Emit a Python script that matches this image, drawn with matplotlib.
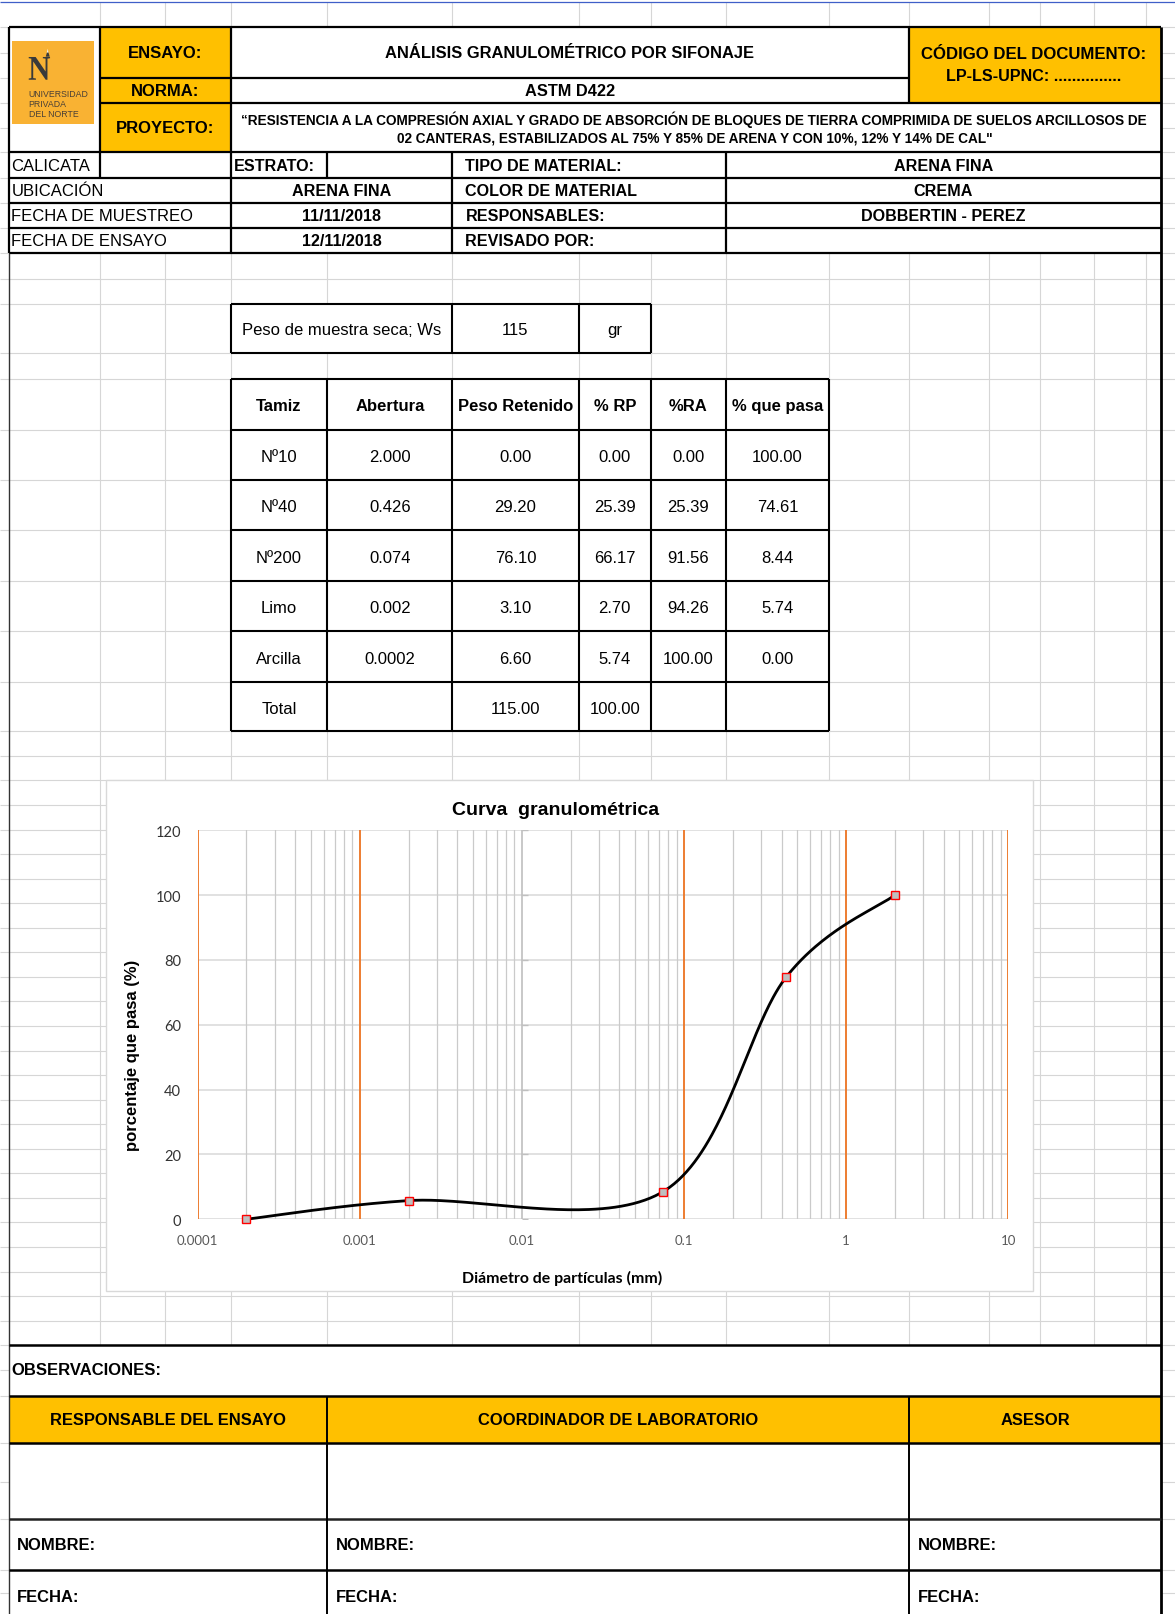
import numpy as np
import matplotlib.pyplot as plt
from matplotlib.patches import Rectangle, PathPatch, Polygon
from matplotlib.textpath import TextPath
from matplotlib.font_manager import FontProperties
from matplotlib.transforms import Affine2D
from matplotlib.ticker import FuncFormatter, NullLocator

plt.rcParams['font.family'] = ['Liberation Sans', 'DejaVu Sans']

# ---------------- data ----------------
ensayo = 'ANÁLISIS GRANULOMÉTRICO POR SIFONAJE'
norma = 'ASTM D422'
proyecto = ['“RESISTENCIA A LA COMPRESIÓN AXIAL Y GRADO DE ABSORCIÓN DE BLOQUES DE TIERRA COMPRIMIDA DE SUELOS ARCILLOSOS DE',
            '02 CANTERAS, ESTABILIZADOS AL 75% Y 85% DE ARENA Y CON 10%, 12% Y 14% DE CAL"']
codigo = ['CÓDIGO DEL DOCUMENTO:', 'LP-LS-UPNC: ...............']

info_left = ['CALICATA', 'UBICACIÓN', 'FECHA DE MUESTREO', 'FECHA DE ENSAYO']
info_mid = ['', 'ARENA FINA', '11/11/2018', '12/11/2018']
info_lbl = ['TIPO DE MATERIAL:', 'COLOR DE MATERIAL', 'RESPONSABLES:', 'REVISADO POR:']
info_val = ['ARENA FINA', 'CREMA', 'DOBBERTIN - PEREZ', '']

peso_muestra = 115
headers = ['Tamiz', 'Abertura', 'Peso Retenido', '% RP', '%RA', '% que pasa']
tamiz = ['Nº10', 'Nº40', 'Nº200', 'Limo', 'Arcilla']
abertura = [2.000, 0.426, 0.074, 0.002, 0.0002]
peso_ret = [0.00, 29.20, 76.10, 3.10, 6.60]
pct_rp = [0.00, 25.39, 66.17, 2.70, 5.74]
pct_ra = [0.00, 25.39, 91.56, 94.26, 100.00]
pct_pasa = [100.00, 74.61, 8.44, 5.74, 0.00]

firmas = ['RESPONSABLE DEL ENSAYO', 'COORDINADOR DE LABORATORIO', 'ASESOR']

# ---------------- sheet layout (reference pixel grid) ----------------
W, H = 1141, 1568
fig = plt.figure(figsize=(11.75, 16.15), dpi=100)
bg = fig.add_axes([0, 0, 1, 1])
bg.set_xlim(0, W)
bg.set_ylim(H, 0)
bg.axis('off')

YELLOW = '#FFC000'
GRID = '#D6D6D6'


def hline(y, x0, x1, color='black', lw=1.6, z=3):
    bg.plot([x0, x1], [y, y], color=color, lw=lw, zorder=z, solid_capstyle='butt')


def vline(x, y0, y1, color='black', lw=1.6, z=3):
    bg.plot([x, x], [y0, y1], color=color, lw=lw, zorder=z, solid_capstyle='butt')


def box(x0, y0, x1, y1, fc='white', ec='none', lw=0, z=1):
    bg.add_patch(Rectangle((x0, y0), x1 - x0, y1 - y0, fc=fc, ec=ec, lw=lw, zorder=z))


def txt(x, y, s, size=12, bold=False, ha='center', color='black', **kw):
    bg.text(x, y, s, fontsize=size, fontweight='bold' if bold else 'normal',
            ha=ha, va='center', color=color, zorder=4, **kw)


# spreadsheet gridlines
cols = [97, 160, 224, 318, 439, 562, 632, 705, 805, 883, 960, 1010, 1062, 1113]
rows = [27.5, 52, 76.7, 101.3, 125, 149, 173.8, 198.4, 222.7, 247, 271.5, 296, 344,
        369, 418, 467, 516, 565, 614, 663, 711]
rows += list(711 + 23.84 * np.arange(1, 26))
rows += [1331, 1356, 1402, 1440, 1476, 1525, 1548]
for x in cols:
    vline(x, 3, H, color=GRID, lw=0.8, z=0)
for y in rows:
    hline(y, 0, W, color=GRID, lw=0.8, z=0)
hline(2.5, 0, W, color='#3F5FC8', lw=0.9, z=0)

# white blocks over the grid
box(9, 27.5, 1127, 247)
box(224, 296, 632, 344)
box(224, 369, 805, 711)
box(9, 1307, 1127, H)

# ---------------- header ----------------
box(97, 27.5, 224, 149, fc=YELLOW, z=2)
box(883, 27.5, 1127, 101.3, fc=YELLOW, z=2)

# logo
box(11.2, 40.8, 91.5, 121.4, fc='#F9B233', z=2)
tp = TextPath((0, 0), 'N', size=1, prop=FontProperties(family='Liberation Serif', weight='bold'))
ext = tp.get_extents()
sx = (48.6 - 27.9) / ext.width
sy = (78.4 - 56.3) / ext.height
tr = Affine2D().translate(-ext.x0, -ext.y0).scale(sx, -sy).translate(27.9, 78.4)
bg.add_patch(PathPatch(tr.transform_path(tp), fc='#3A3A3A', ec='none', zorder=3))
bg.add_patch(Polygon([[44.4, 56], [46.3, 49.5], [48.3, 56]], closed=True, fc='#3A3A3A', ec='none', zorder=3))
bg.add_patch(Polygon([[45.5, 52], [46.3, 48.3], [47.1, 52]], closed=True, fc='white', ec='none', zorder=3))
for yy, s in zip([91.8, 101.5, 110.7], ['UNIVERSIDAD', 'PRIVADA', 'DEL NORTE']):
    txt(27.9, yy, s, size=6.3, ha='left', color='#4A4036')

txt(160.5, 52, 'ENSAYO:', size=12, bold=True)
txt(160.5, 89, 'NORMA:', size=12, bold=True)
txt(160.5, 125, 'PROYECTO:', size=12, bold=True)
txt(553.5, 52, ensayo, size=11.9, bold=True)
txt(553.5, 89, norma, size=11.8, bold=True)
txt(1004, 53, codigo[0], size=12.1, bold=True)
txt(1004, 74, codigo[1], size=11.6, bold=True)
txt(674, 116, proyecto[0], size=9.8, bold=True)
txt(675, 134, proyecto[1], size=9.8, bold=True)

row_c = [161.4, 186.1, 210.5, 234.9]
for i in range(4):
    txt(11, row_c[i], info_left[i], size=12, ha='left')
    txt(331.5, row_c[i], info_mid[i], size=11.6, bold=True)
    txt(452, row_c[i], info_lbl[i], size=11.6, bold=True, ha='left')
    txt(916, row_c[i], info_val[i], size=11.6, bold=True)
txt(227, row_c[0], 'ESTRATO:', size=11.6, bold=True, ha='left')

for y in [27.5, 149, 173.8, 198.4, 222.7, 247]:
    hline(y, 9, 1127)
hline(76.7, 97, 883)
hline(101.3, 97, 1127)
vline(9, 27.5, 247)
vline(97, 27.5, 173.8)
vline(224, 27.5, 247)
vline(883, 27.5, 101.3)
vline(318, 149, 173.8)
vline(439, 149, 247)
vline(705, 149, 247)
vline(1127, 27.5, H, lw=2)
vline(9, 247, H, color='#333333', lw=1)

# ---------------- peso de muestra ----------------
px = [224, 439, 562, 632]
for x in px:
    vline(x, 296, 344, lw=1.5)
hline(296, 224, 632, lw=1.5)
hline(344, 224, 632, lw=1.5)
txt(331.5, 321, 'Peso de muestra seca; Ws', size=12)
txt(500.5, 321, f'{peso_muestra}', size=12)
txt(597, 321, 'gr', size=12)

# ---------------- tabla ----------------
tx = [224, 318, 439, 562, 632, 705, 805]
ty = [369, 418, 467, 516, 565, 614, 663, 711]
for x in tx:
    vline(x, ty[0], ty[-1], lw=1.5)
for y in ty:
    hline(y, tx[0], tx[-1], lw=1.5)
tcx = [(tx[i] + tx[i + 1]) / 2 for i in range(6)]
tcy = [(ty[i] + ty[i + 1]) / 2 + 1.5 for i in range(7)]
for j, h in enumerate(headers):
    txt(tcx[j], tcy[0], h, size=12, bold=True)
for i in range(len(tamiz)):
    a = abertura[i]
    vals = [tamiz[i], f'{a:.3f}' if a >= 0.001 else f'{a:.4f}',
            f'{peso_ret[i]:.2f}', f'{pct_rp[i]:.2f}', f'{pct_ra[i]:.2f}', f'{pct_pasa[i]:.2f}']
    for j, s in enumerate(vals):
        txt(tcx[j], tcy[i + 1], s, size=12)
txt(tcx[0], tcy[6], 'Total', size=12)
txt(tcx[2], tcy[6], f'{sum(peso_ret):.2f}', size=12)
txt(tcx[3], tcy[6], f'{sum(pct_rp):.2f}', size=12)

# ---------------- grafico ----------------
box(102.6, 758, 1003.5, 1254, fc='white', ec='#D9D9D9', lw=1, z=1)
txt(539.8, 787, 'Curva  granulométrica', size=14, bold=True)
txt(128.7, 1024.6, 'porcentaje que pasa (%)', size=12, bold=True, rotation=90)
txt(546, 1241, 'Diámetro de partículas (mm)', size=11.4, bold=True, family=['Lato', 'DejaVu Sans'])

cx0, cx1, cy0, cy1 = 191.9, 979, 807, 1184.7
ax = fig.add_axes([cx0 / W, 1 - cy1 / H, (cx1 - cx0) / W, (cy1 - cy0) / H])
ax.set_zorder(2)
ax.patch.set_alpha(0)
ax.set_xscale('log')
ax.set_xlim(1e-4, 10)
ax.set_ylim(0, 120)
for s in ax.spines.values():
    s.set_visible(False)

yt = np.arange(0, 121, 20)
for y in yt:
    ax.axhline(y, color='#D9D9D9', lw=1.1, zorder=1)
for e in range(-4, 1):
    for k in range(2, 10):
        ax.axvline(k * 10.0 ** e, color='#CACACA', lw=0.9, zorder=1)
for d in [1e-4, 1e-3, 1e-1, 1, 10]:
    ax.axvline(d, color='#ED7D31', lw=1.4, zorder=2)
ax.axvline(1e-2, color='#BFBFBF', lw=1.2, zorder=2)
ax.plot([1e-2] * len(yt), yt, ls='none', marker=1, ms=4, mew=1, color='#BFBFBF', zorder=2)

# smoothed line (cardinal spline in log-x space, like the spreadsheet)
order = np.argsort(abertura)
P = np.column_stack([np.log10(np.array(abertura)[order]), np.array(pct_pasa)[order]])
Pe = np.vstack([P[0], P, P[-1]])
t = np.linspace(0, 1, 80)[:, None]
segs = []
for i in range(len(P) - 1):
    p0, p3 = P[i], P[i + 1]
    p1 = p0 + (Pe[i + 2] - Pe[i]) / 6
    p2 = p3 - (Pe[i + 3] - Pe[i + 1]) / 6
    segs.append((1 - t) ** 3 * p0 + 3 * (1 - t) ** 2 * t * p1 + 3 * (1 - t) * t ** 2 * p2 + t ** 3 * p3)
curve = np.vstack(segs)
ax.plot(10 ** curve[:, 0], curve[:, 1], color='black', lw=2, zorder=4, clip_on=False)
ax.plot(abertura, pct_pasa, ls='none', marker='s', ms=6, mfc='#BFBFBF', mec='#FF0000', mew=1,
        zorder=5, clip_on=False)

ax.set_xticks([1e-4, 1e-3, 1e-2, 1e-1, 1, 10])
ax.xaxis.set_minor_locator(NullLocator())
ax.xaxis.set_major_formatter(FuncFormatter(lambda v, _: f'{v:g}'))
ax.set_yticks(yt)
ax.tick_params(length=0)
ax.tick_params(axis='x', pad=11, labelsize=9.5, labelcolor='#595959')
ax.tick_params(axis='y', pad=12, labelsize=10.5, labelcolor='#333333')
for lab in ax.get_xticklabels() + ax.get_yticklabels():
    lab.set_family(['Lato', 'DejaVu Sans'])

# ---------------- pie ----------------
box(9, 1356, 1127, 1402, fc=YELLOW, z=2)
hline(1307, 9, 1127, lw=1.8)
hline(1356, 9, 1127, lw=1.8)
hline(1402, 9, 1127, lw=1.8)
hline(1476, 9, 1127, color='#222222', lw=1.8)
hline(1525, 9, 1127, lw=1.8)
vline(318, 1356, H, lw=1.4)
vline(883, 1356, H, lw=1.4)
txt(11, 1331, 'OBSERVACIONES:', size=12, bold=True, ha='left')
fx = [(9 + 318) / 2, (318 + 883) / 2, (883 + 1127) / 2]
for x, s in zip(fx, firmas):
    txt(x, 1379, s, size=11.9, bold=True)
for x in [16, 326, 891]:
    txt(x, 1501, 'NOMBRE:', size=11.9, bold=True, ha='left')
    txt(x, 1551, 'FECHA:', size=11.9, bold=True, ha='left')

fig.savefig('out.png', dpi=100)
